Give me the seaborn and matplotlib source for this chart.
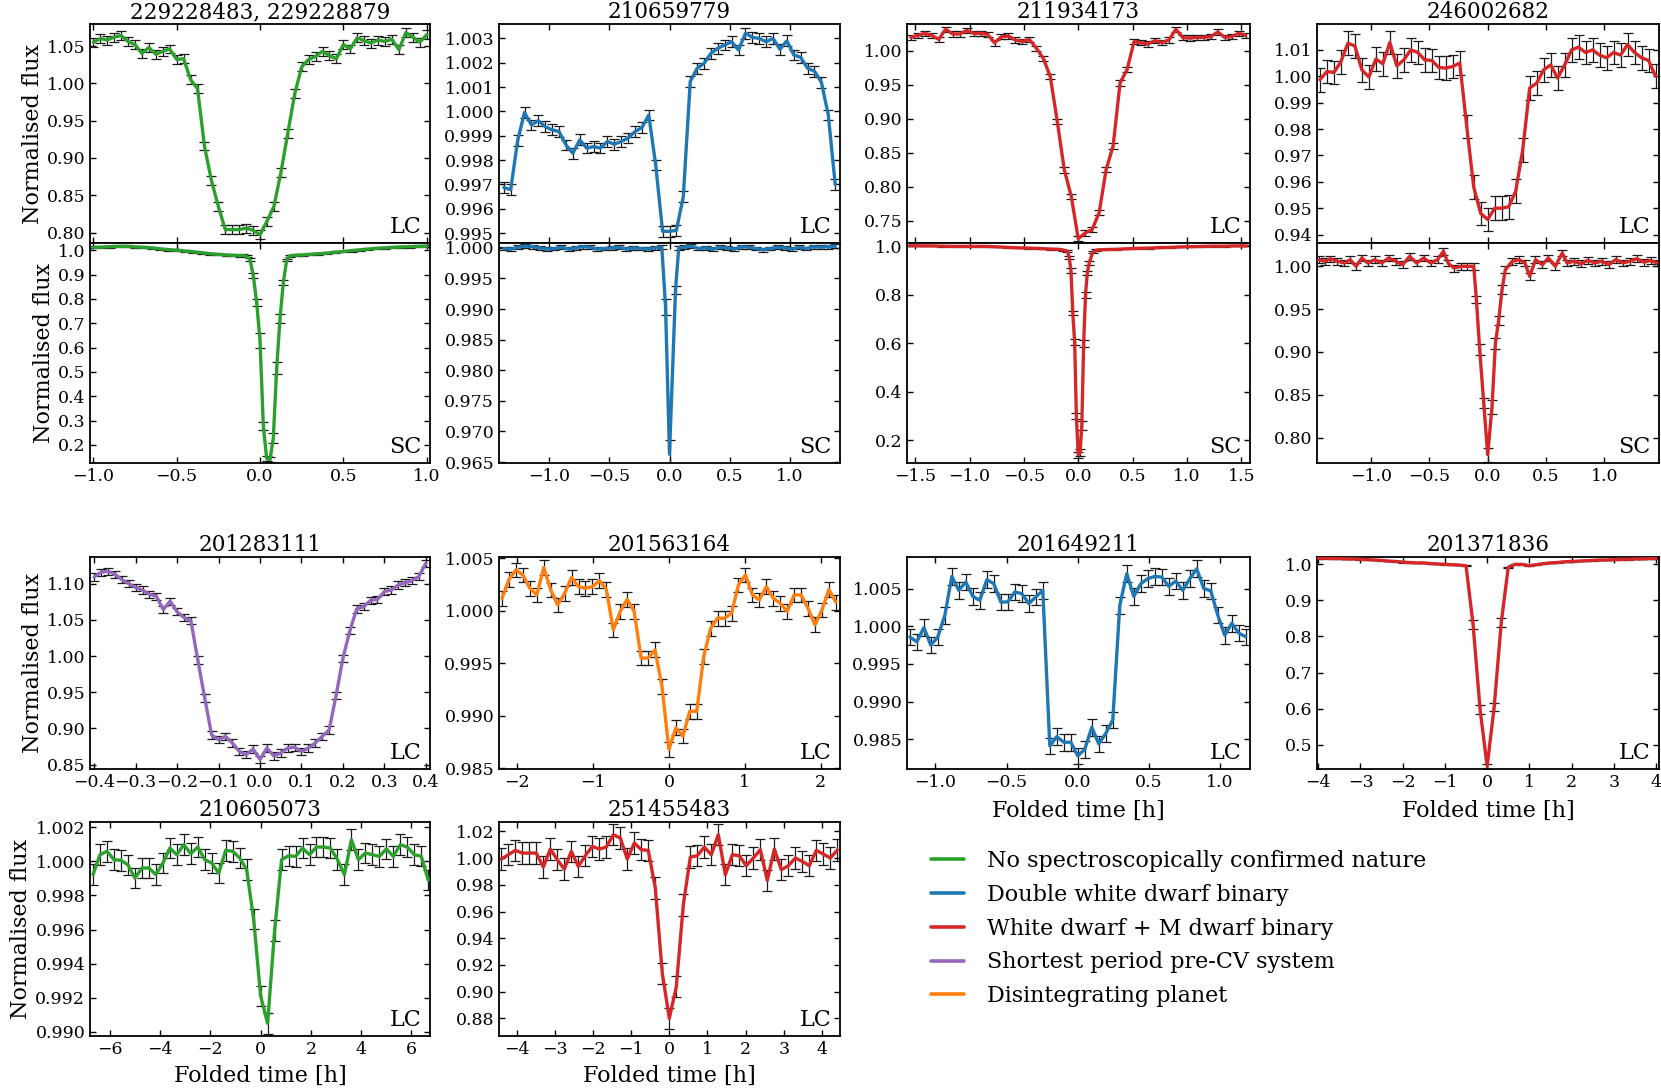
import numpy as np
import matplotlib
matplotlib.use("Agg")
import matplotlib.pyplot as plt
from matplotlib.ticker import MultipleLocator
from matplotlib.lines import Line2D
import seaborn as sns

# ---------------- DATA ----------------
C_GREEN = "#2ca02c"
C_BLUE = "#1f77b4"
C_RED = "#d62728"
C_PURPLE = "#9467bd"
C_ORANGE = "#ff7f0e"

# 229228483, 229228879 (LC)
a_lc_x = np.linspace(-1.0, 1.0, 49)
a_lc_y = [1.055, 1.060, 1.058, 1.062, 1.064, 1.056, 1.052, 1.040, 1.048, 1.039,
          1.043, 1.046, 1.032, 1.033, 1.005, 0.993, 0.916, 0.870, 0.835, 0.804,
          0.804, 0.804, 0.806, 0.803, 0.797, 0.815, 0.835, 0.880, 0.933, 0.986,
          1.022, 1.032, 1.036, 1.043, 1.037, 1.033, 1.052, 1.046, 1.061, 1.057,
          1.054, 1.058, 1.056, 1.059, 1.045, 1.068, 1.062, 1.055, 1.065]
a_lc_err = 0.006
# 229228483, 229228879 (SC)
a_sc_x = [-1.0, -0.95, -0.9, -0.85, -0.8, -0.75, -0.7, -0.65, -0.6, -0.55,
          -0.5, -0.45, -0.4, -0.35, -0.3, -0.25, -0.2, -0.16, -0.12, -0.10,
          -0.08, -0.06, -0.04, -0.02, 0.00, 0.02, 0.04, 0.06, 0.08, 0.10,
          0.12, 0.14, 0.16, 0.18, 0.22, 0.26, 0.30, 0.35, 0.40, 0.45,
          0.50, 0.55, 0.60, 0.65, 0.70, 0.75, 0.80, 0.85, 0.90, 0.95, 1.00]
a_sc_y = [1.012, 1.013, 1.015, 1.016, 1.016, 1.014, 1.012, 1.010, 1.006, 1.003,
          1.000, 0.997, 0.994, 0.990, 0.986, 0.983, 0.981, 0.979, 0.978, 0.979,
          0.975, 0.962, 0.895, 0.785, 0.630, 0.278, 0.145, 0.140, 0.230, 0.515,
          0.720, 0.868, 0.960, 0.978, 0.980, 0.981, 0.983, 0.986, 0.988, 0.992,
          0.995, 0.999, 1.002, 1.005, 1.008, 1.010, 1.012, 1.014, 1.015, 1.016, 1.017]
a_sc_err = [0.004, 0.004, 0.004, 0.004, 0.004, 0.004, 0.004, 0.004, 0.004, 0.004,
            0.004, 0.004, 0.004, 0.004, 0.004, 0.004, 0.004, 0.004, 0.004, 0.004,
            0.004, 0.005, 0.010, 0.015, 0.030, 0.017, 0.010, 0.010, 0.020, 0.025,
            0.020, 0.012, 0.006, 0.004, 0.004, 0.004, 0.004, 0.004, 0.004, 0.004,
            0.004, 0.004, 0.004, 0.004, 0.004, 0.004, 0.004, 0.004, 0.004, 0.004, 0.004]

# 210659779 (LC)
b_lc_x = np.linspace(-1.38, 1.38, 49)
b_lc_y = [0.99687, 0.99678, 0.99880, 0.99995, 0.99944, 0.99962, 0.99937, 0.99924, 0.99917, 0.99862,
          0.99828, 0.99883, 0.99849, 0.99855, 0.99849, 0.99876, 0.99865, 0.99876, 0.99890, 0.99917,
          0.99933, 0.99985, 0.99780, 0.99507, 0.99507, 0.99511, 0.99650, 1.00122, 1.00177, 1.00197,
          1.00238, 1.00259, 1.00273, 1.00286, 1.00252, 1.00321, 1.00304, 1.00300, 1.00286, 1.00300,
          1.00255, 1.00290, 1.00232, 1.00222, 1.00177, 1.00165, 1.00120, 0.99985, 0.99700]
b_lc_err = 0.00022
# 210659779 (SC)
b_sc_x = [-1.38, -1.32, -1.26, -1.20, -1.14, -1.08, -1.02, -0.96, -0.90, -0.84,
          -0.78, -0.72, -0.66, -0.60, -0.54, -0.48, -0.42, -0.36, -0.30, -0.24,
          -0.18, -0.12, -0.064, -0.033, 0.0, 0.05, 0.077, 0.12, 0.18, 0.24,
          0.30, 0.36, 0.42, 0.48, 0.54, 0.60, 0.66, 0.72, 0.78, 0.84,
          0.90, 0.96, 1.02, 1.08, 1.14, 1.20, 1.26, 1.32, 1.38]
b_sc_y = [0.9999, 0.9998, 1.0001, 1.0003, 1.0002, 1.0000, 0.9998, 0.9999, 1.0001, 0.9998,
          1.0000, 1.0002, 1.0001, 0.9998, 0.9999, 1.0000, 1.0001, 0.9998, 1.0000, 0.9999,
          0.9998, 1.0000, 1.0001, 0.9904, 0.9663, 0.9931, 1.0000, 1.0001, 1.0003, 0.9999,
          1.0000, 0.9998, 1.0001, 1.0000, 0.9998, 1.0002, 1.0001, 0.9999, 0.9997, 0.9999,
          1.0001, 1.0000, 0.9998, 1.0001, 0.9999, 1.0002, 1.0001, 1.0002, 1.0003]
b_sc_err = [0.0003, 0.0003, 0.0003, 0.0003, 0.0003, 0.0003, 0.0003, 0.0003, 0.0003, 0.0003,
            0.0003, 0.0003, 0.0003, 0.0003, 0.0003, 0.0003, 0.0003, 0.0003, 0.0003, 0.0003,
            0.0003, 0.0003, 0.0003, 0.0013, 0.0023, 0.0006, 0.0003, 0.0003, 0.0003, 0.0003,
            0.0003, 0.0003, 0.0003, 0.0003, 0.0003, 0.0003, 0.0003, 0.0003, 0.0003, 0.0003,
            0.0003, 0.0003, 0.0003, 0.0003, 0.0003, 0.0003, 0.0003, 0.0003, 0.0003]

# 211934173 (LC)
c_lc_x = np.linspace(-1.54, 1.54, 49)
c_lc_y = [1.020, 1.023, 1.026, 1.023, 1.017, 1.032, 1.025, 1.025, 1.030, 1.026,
          1.026, 1.0245, 1.012, 1.021, 1.022, 1.016, 1.014, 1.017, 1.004, 0.989,
          0.962, 0.896, 0.825, 0.786, 0.7235, 0.732, 0.737, 0.762, 0.8255, 0.860,
          0.953, 0.9725, 1.0137, 1.0123, 1.0103, 1.0152, 1.0123, 1.0162, 1.032, 1.0196,
          1.019, 1.020, 1.020, 1.021, 1.028, 1.020, 1.021, 1.026, 1.023]
c_lc_err = 0.004
# 211934173 (SC)
c_sc_x = [-1.55, -1.45, -1.35, -1.25, -1.15, -1.05, -0.95, -0.85, -0.75, -0.65,
          -0.55, -0.45, -0.35, -0.25, -0.18, -0.14, -0.10, -0.083, -0.067, -0.05,
          -0.033, -0.017, 0.0, 0.017, 0.033, 0.05, 0.067, 0.083, 0.10, 0.133,
          0.167, 0.25, 0.35, 0.45, 0.55, 0.65, 0.75, 0.85, 0.95, 1.05,
          1.15, 1.25, 1.35, 1.45, 1.55]
c_sc_y = [1.003, 1.002, 1.002, 1.001, 1.000, 1.000, 1.000, 1.000, 0.998, 0.996,
          0.994, 0.993, 0.991, 0.989, 0.988, 0.985, 0.980, 0.955, 0.900, 0.725,
          0.605, 0.300, 0.140, 0.150, 0.260, 0.600, 0.800, 0.890, 0.930, 0.975,
          0.985, 0.987, 0.988, 0.990, 0.992, 0.993, 0.995, 0.996, 0.998, 0.999,
          1.000, 1.001, 1.001, 1.002, 1.002]
c_sc_err = [0.002, 0.002, 0.002, 0.002, 0.002, 0.002, 0.002, 0.002, 0.002, 0.002,
            0.002, 0.002, 0.002, 0.002, 0.002, 0.002, 0.004, 0.006, 0.010, 0.010,
            0.012, 0.012, 0.012, 0.015, 0.018, 0.015, 0.012, 0.010, 0.008, 0.004,
            0.003, 0.002, 0.002, 0.002, 0.002, 0.002, 0.002, 0.002, 0.002, 0.002,
            0.002, 0.002, 0.002, 0.002, 0.002]

# 246002682 (LC)
d_lc_x = np.linspace(-1.44, 1.44, 49)
d_lc_y = [0.9987, 1.0018, 1.0014, 1.0055, 1.0125, 1.0115, 1.0024, 0.9997, 1.0065, 1.0047,
          1.0128, 1.0039, 1.0062, 1.0100, 1.0090, 1.0062, 1.0060, 1.0033, 1.0031, 1.0037,
          1.0050, 0.9810, 0.9580, 0.9480, 0.9457, 0.9500, 0.9500, 0.9505, 0.9564, 0.9720,
          0.9955, 0.9974, 1.0024, 1.0043, 0.9993, 1.0043, 1.0100, 1.0110, 1.0090, 1.0100,
          1.0080, 1.0070, 1.0090, 1.0080, 1.0120, 1.0090, 1.0070, 1.0060, 1.0000]
d_lc_err = 0.0045
# 246002682 (SC)
d_sc_x = [-1.45, -1.40, -1.35, -1.29, -1.23, -1.18, -1.13, -1.08, -1.03, -0.97,
          -0.91, -0.85, -0.79, -0.73, -0.67, -0.61, -0.55, -0.49, -0.43, -0.38,
          -0.34, -0.29, -0.23, -0.18, -0.12, -0.097, -0.069, -0.034, 0.0, 0.037,
          0.066, 0.094, 0.123, 0.151, 0.21, 0.27, 0.32, 0.36, 0.41, 0.47,
          0.52, 0.58, 0.64, 0.68, 0.74, 0.80, 0.86, 0.92, 0.98, 1.04,
          1.10, 1.16, 1.22, 1.28, 1.34, 1.40, 1.45]
d_sc_y = [1.0078, 1.0059, 1.0086, 1.0059, 1.0039, 1.0078, 1.0000, 1.0098, 1.0039, 1.0078,
          1.0039, 1.0098, 1.0059, 1.0020, 1.0117, 1.0039, 1.0098, 1.0039, 1.0078, 1.0176,
          1.0039, 0.9980, 1.0000, 1.0000, 1.0000, 0.961, 0.903, 0.840, 0.780, 0.836,
          0.910, 0.937, 0.973, 0.996, 1.0059, 1.0078, 1.0039, 0.9883, 1.0078, 1.0020,
          1.0098, 1.0000, 1.0156, 1.0039, 1.0060, 1.0030, 1.0070, 1.0040, 1.0060, 1.0020,
          1.0080, 1.0040, 1.0060, 1.0090, 1.0050, 1.0070, 1.0040]
d_sc_err = [0.004, 0.004, 0.004, 0.004, 0.004, 0.004, 0.004, 0.004, 0.004, 0.004,
            0.004, 0.004, 0.004, 0.004, 0.004, 0.004, 0.004, 0.004, 0.004, 0.004,
            0.004, 0.004, 0.004, 0.004, 0.004, 0.004, 0.006, 0.006, 0.008, 0.008,
            0.006, 0.005, 0.005, 0.004, 0.004, 0.004, 0.004, 0.004, 0.004, 0.004,
            0.004, 0.004, 0.004, 0.004, 0.004, 0.004, 0.004, 0.004, 0.004, 0.004,
            0.004, 0.004, 0.004, 0.004, 0.004, 0.004, 0.004]

# 201283111
e_x = np.linspace(-0.40, 0.40, 49)
e_y = [1.109, 1.1156, 1.117, 1.113, 1.1055, 1.100, 1.0945, 1.091, 1.0853, 1.0826,
       1.0642, 1.0757, 1.061, 1.0532, 1.0486, 0.9945, 0.942, 0.891, 0.8844, 0.889,
       0.880, 0.8683, 0.8637, 0.8716, 0.857, 0.873, 0.862, 0.866, 0.873, 0.874,
       0.868, 0.873, 0.880, 0.889, 0.898, 0.945, 0.997, 1.035, 1.065, 1.068,
       1.077, 1.078, 1.089, 1.091, 1.098, 1.101, 1.104, 1.110, 1.128]
e_err = 0.005

# 201563164
f_x = np.linspace(-2.2, 2.2, 49)
f_y = [1.00117, 1.00297, 1.00386, 1.00339, 1.00212, 1.00149, 1.00411, 1.00196, 1.00054, 1.00165,
       1.00316, 1.00228, 1.00212, 1.00228, 1.00285, 1.00203, 0.99816, 0.99991, 1.00108, 0.99991,
       0.99547, 0.99547, 0.99627, 0.99278, 0.98677, 0.98883, 0.98804, 0.99041, 0.99041, 0.99563,
       0.99832, 0.99927, 0.99927, 0.99975, 1.00244, 1.00339, 1.00149, 1.00101, 1.00228, 1.00117,
       1.00070, 0.99991, 1.00149, 1.00149, 1.00022, 0.99864, 1.00006, 1.00200, 1.00080]
f_err = 0.0007

# 201649211
g_x = np.linspace(-1.18, 1.18, 49)
g_y = [0.99859, 0.99793, 0.99982, 0.99749, 0.99859, 1.00145, 1.00661, 1.00476, 1.00586, 1.00396,
       1.00344, 1.00617, 1.00564, 1.00322, 1.00322, 1.00454, 1.00432, 1.00300, 1.00388, 1.00476,
       0.98414, 0.98537, 0.98463, 0.98463, 0.98282, 0.98370, 0.98661, 0.98441, 0.98581, 0.98758,
       1.00278, 1.00696, 1.00396, 1.00564, 1.00630, 1.00661, 1.00652, 1.00529, 1.00599, 1.00476,
       1.00630, 1.00762, 1.00500, 1.00470, 1.00150, 0.99880, 1.00040, 0.99910, 0.99860]
g_err = 0.0011

# 201371836
h_x = np.linspace(-4.0, 4.0, 49)
h_y = [1.017, 1.017, 1.016, 1.016, 1.015, 1.015, 1.014, 1.013, 1.012, 1.011,
       1.009, 1.008, 1.006, 1.005, 1.004, 1.004, 1.002, 1.001, 1.000, 0.999,
       0.998, 0.996, 0.833, 0.597, 0.440, 0.605, 0.838, 0.992, 1.000, 1.000,
       0.996, 0.999, 1.002, 1.004, 1.005, 1.007, 1.008, 1.009, 1.010, 1.011,
       1.012, 1.012, 1.013, 1.014, 1.014, 1.015, 1.015, 1.016, 1.016]
h_err = [0.001, 0.001, 0.001, 0.001, 0.001, 0.001, 0.001, 0.001, 0.001, 0.001,
         0.001, 0.001, 0.001, 0.001, 0.001, 0.001, 0.001, 0.001, 0.001, 0.001,
         0.001, 0.001, 0.012, 0.012, 0.008, 0.012, 0.012, 0.001, 0.001, 0.001,
         0.001, 0.001, 0.001, 0.001, 0.001, 0.001, 0.001, 0.001, 0.001, 0.001,
         0.001, 0.001, 0.001, 0.001, 0.001, 0.001, 0.001, 0.001, 0.001]

# 210605073
i_x = np.linspace(-6.67, 6.67, 49)
i_y = [0.99922, 1.00039, 1.00059, 1.00010, 1.00006, 0.99980, 0.99902, 0.99961, 0.99961, 0.99922,
       0.99990, 1.00078, 1.00039, 1.00098, 1.00045, 1.00084, 1.00010, 0.99990, 0.99931, 1.00065,
       1.00059, 1.00020, 0.99951, 0.99661, 0.99210, 0.99049, 0.99594, 1.00010, 1.00033, 1.00029,
       1.00078, 1.00039, 1.00084, 1.00084, 1.00078, 1.00010, 0.99922, 1.00127, 1.00010, 1.00049,
       1.00039, 1.00029, 1.00073, 1.00029, 1.00098, 1.00084, 1.00039, 1.00030, 0.99890]
i_err = 0.0006

# 251455483
j_x = np.linspace(-4.4, 4.4, 49)
j_y = [0.99925, 1.0025, 1.00575, 1.00375, 1.00375, 1.00375, 0.99325, 1.00675, 0.99875, 0.99175,
       1.005, 0.99375, 1.00175, 1.00875, 1.00675, 1.00825, 1.0175, 1.015, 0.99925, 1.01125,
       1.00625, 1.00575, 0.9775, 0.91375, 0.880, 0.90375, 0.965, 1.00075, 1.00175, 1.00825,
       1.0025, 1.0175, 0.9875, 1.0025, 1.00175, 0.99425, 1.000, 1.00625, 0.98325, 1.00675,
       0.99125, 0.99425, 1.000, 0.9975, 0.99425, 1.00575, 1.003, 1.000, 1.006]
j_err = 0.008

legend_labels = ["No spectroscopically confirmed nature",
                 "Double white dwarf binary",
                 "White dwarf + M dwarf binary",
                 "Shortest period pre-CV system",
                 "Disintegrating planet"]
legend_colors = [C_GREEN, C_BLUE, C_RED, C_PURPLE, C_ORANGE]

# ---------------- STYLE ----------------
sns.set_theme(style="ticks")
plt.rcParams.update({
    "font.family": ["DejaVu Serif", "DejaVu Sans"],
    "text.color": "black",
    "axes.labelcolor": "black",
    "axes.edgecolor": "black",
    "axes.linewidth": 1.3,
    "xtick.color": "black",
    "ytick.color": "black",
    "xtick.direction": "in",
    "ytick.direction": "in",
    "xtick.top": True,
    "ytick.right": True,
    "xtick.major.size": 4.5,
    "ytick.major.size": 4.5,
    "xtick.major.width": 1.0,
    "ytick.major.width": 1.0,
    "xtick.labelsize": 12.5,
    "ytick.labelsize": 12.5,
    "axes.formatter.useoffset": False,
    "axes.titlesize": 15.5,
    "axes.labelsize": 16,
})

W, H = 1661, 1089
fig = plt.figure(figsize=(W / 100, H / 100), dpi=100)


def make_ax(l, t, r, b):
    return fig.add_axes([l / W, 1 - b / H, (r - l) / W, (b - t) / H])


def draw(ax, x, y, err, color, xlim, ylim, xstep, ystep, tag):
    ax.errorbar(x, y, yerr=err, fmt="none", ecolor="k", elinewidth=0.9,
                capsize=3.5, capthick=0.9, zorder=2)
    sns.lineplot(x=x, y=y, ax=ax, color=color, linewidth=2.4,
                 estimator=None, sort=False, zorder=3)
    ax.set_xlim(*xlim)
    ax.set_ylim(*ylim)
    ax.xaxis.set_major_locator(MultipleLocator(xstep))
    ax.yaxis.set_major_locator(MultipleLocator(ystep))
    ax.set_xlabel("")
    ax.set_ylabel("")
    ax.text(0.975, 0.045, tag, transform=ax.transAxes, ha="right",
            va="baseline", fontsize=16)


cols = [(90, 430), (499, 840), (907, 1250), (1317, 1659)]

# ---- top block (LC over SC) ----
top_specs = [
    ("229228483, 229228879", a_lc_x, a_lc_y, a_lc_err, a_sc_x, a_sc_y, a_sc_err, C_GREEN,
     (-1.02, 1.02), (0.786, 1.0795), 0.05, (0.126, 1.03), 0.1, 0.5),
    ("210659779", b_lc_x, b_lc_y, b_lc_err, b_sc_x, b_sc_y, b_sc_err, C_BLUE,
     (-1.42, 1.42), (0.99459, 1.00359), 0.001, (0.96484, 1.0008), 0.005, 0.5),
    ("211934173", c_lc_x, c_lc_y, c_lc_err, c_sc_x, c_sc_y, c_sc_err, C_RED,
     (-1.575, 1.58), (0.7172, 1.0397), 0.05, (0.106, 1.014), 0.2, 0.5),
    ("246002682", d_lc_x, d_lc_y, d_lc_err, d_sc_x, d_sc_y, d_sc_err, C_RED,
     (-1.465, 1.47), (0.9368, 1.0198), 0.01, (0.7703, 1.0273), 0.05, 0.5),
]
for k, (title, lx, ly, le, sx, sy, se, col, xl, yl1, ys1, yl2, ys2, xs) in enumerate(top_specs):
    l, r = cols[k]
    ax1 = make_ax(l, 24, r, 243)
    ax2 = make_ax(l, 243, r, 463)
    draw(ax1, lx, ly, le, col, xl, yl1, xs, ys1, "LC")
    draw(ax2, sx, sy, se, col, xl, yl2, xs, ys2, "SC")
    ax1.tick_params(labelbottom=False)
    ax1.set_title(title, pad=4)
    if k == 0:
        ax1.set_ylabel("Normalised flux", labelpad=2)
        ax2.set_ylabel("Normalised flux", labelpad=2)

# ---- bottom block row 1 ----
row1 = [
    ("201283111", e_x, e_y, e_err, C_PURPLE, (-0.41, 0.41), (0.844, 1.1367), 0.1, 0.05),
    ("201563164", f_x, f_y, f_err, C_ORANGE, (-2.24, 2.255), (0.98491, 1.0051), 1, 0.005),
    ("201649211", g_x, g_y, g_err, C_BLUE, (-1.20, 1.21), (0.98108, 1.00918), 0.5, 0.005),
    ("201371836", h_x, h_y, h_err, C_RED, (-4.03, 4.07), (0.4328, 1.0203), 1, 0.1),
]
for k, (title, x, y, e, col, xl, yl, xs, ys) in enumerate(row1):
    l, r = cols[k]
    ax = make_ax(l, 557, r, 769)
    draw(ax, x, y, e, col, xl, yl, xs, ys, "LC")
    ax.set_title(title, pad=4)
    if k == 0:
        ax.set_ylabel("Normalised flux", labelpad=2)
    if k >= 2:
        ax.set_xlabel("Folded time [h]", labelpad=6.5)

# ---- bottom block row 2 ----
row2 = [
    ("210605073", i_x, i_y, i_err, C_GREEN, (-6.79, 6.74), (0.98975, 1.00231), 2, 0.002),
    ("251455483", j_x, j_y, j_err, C_RED, (-4.46, 4.47), (0.8668, 1.027), 1, 0.02),
]
for k, (title, x, y, e, col, xl, yl, xs, ys) in enumerate(row2):
    l, r = cols[k]
    ax = make_ax(l, 822, r, 1036)
    draw(ax, x, y, e, col, xl, yl, xs, ys, "LC")
    ax.set_title(title, pad=4)
    ax.set_xlabel("Folded time [h]", labelpad=5)
    if k == 0:
        ax.set_ylabel("Normalised flux", labelpad=2)

# ---- legend ----
handles = [Line2D([0], [0], color=c, lw=2.6) for c in legend_colors]
fig.legend(handles, legend_labels, loc="upper left",
           bbox_to_anchor=(931 / W, 1 - 850 / H), frameon=False,
           fontsize=16, borderaxespad=0, borderpad=0,
           handlelength=1.5, handletextpad=1.0, labelspacing=0.53)

fig.savefig("out.png", dpi=100)
